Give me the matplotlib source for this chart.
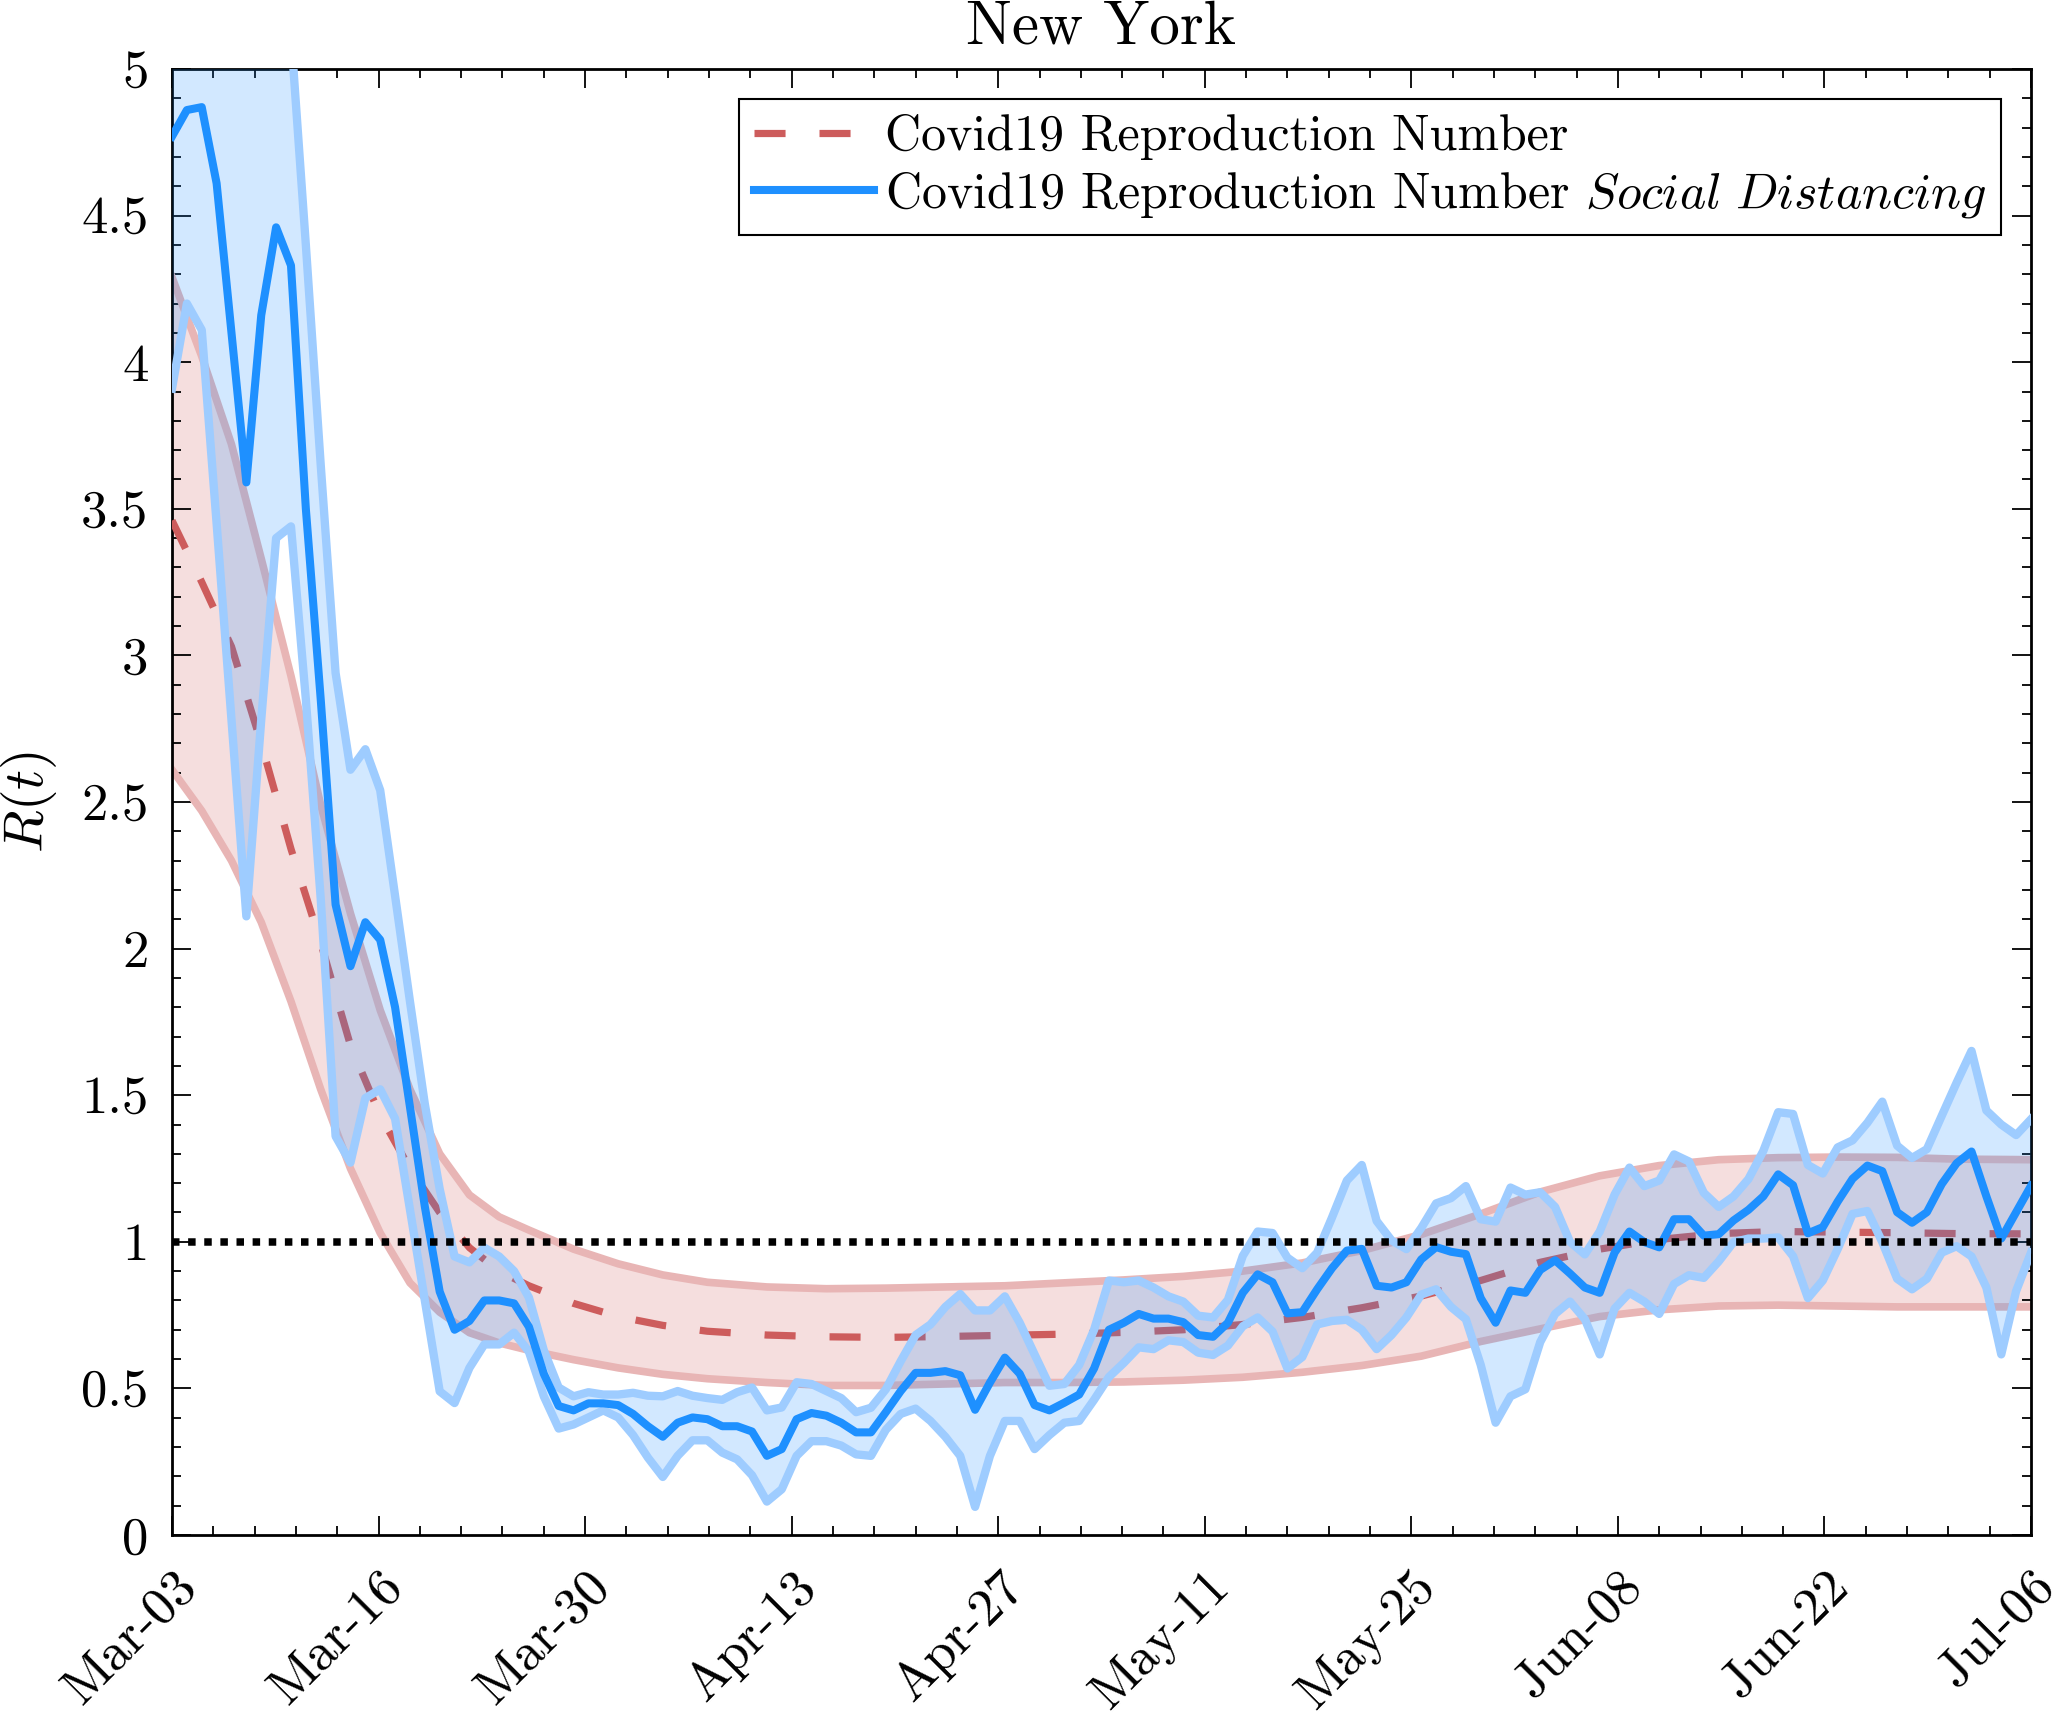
import numpy as np
import matplotlib
matplotlib.use("Agg")
import matplotlib.pyplot as plt
from matplotlib.ticker import FixedLocator, MultipleLocator
from matplotlib.lines import Line2D

plt.rcParams['font.family'] = 'cmr10'
plt.rcParams['mathtext.fontset'] = 'cm'
plt.rcParams['axes.unicode_minus'] = False
plt.rcParams['axes.formatter.use_mathtext'] = True

# date labels (ticks evenly spread over Mar-03 .. Jul-06)
date_labels = ['Mar-03', 'Mar-16', 'Mar-30', 'Apr-13', 'Apr-27',
               'May-11', 'May-25', 'Jun-08', 'Jun-22', 'Jul-06']
ytick_labels = ['0', '0.5', '1', '1.5', '2', '2.5', '3', '3.5', '4', '4.5', '5']

# smooth model estimate (days since Mar-03)
r_days = [0, 2, 4, 6, 8, 10, 12, 14, 16, 18, 20, 22, 24, 27, 30, 33, 36, 40, 44,
          48, 52, 56, 60, 64, 68, 72, 76, 80, 84, 88, 92, 96, 100, 104, 108, 112,
          116, 120, 125]
r_mean = [3.46, 3.25, 3.03, 2.70, 2.34, 2.02, 1.67, 1.43, 1.25, 1.10, 0.98, 0.90,
          0.85, 0.79, 0.745, 0.715, 0.695, 0.682, 0.676, 0.674, 0.677, 0.681, 0.685,
          0.691, 0.70, 0.718, 0.742, 0.775, 0.815, 0.868, 0.93, 0.975, 1.008, 1.028,
          1.035, 1.033, 1.031, 1.028, 1.027]
r_hi = [4.29, 4.02, 3.72, 3.33, 2.93, 2.49, 2.12, 1.79, 1.52, 1.30, 1.16, 1.085,
        1.04, 0.975, 0.925, 0.887, 0.862, 0.846, 0.84, 0.842, 0.846, 0.85, 0.86,
        0.87, 0.882, 0.90, 0.928, 0.97, 1.025, 1.095, 1.17, 1.225, 1.26, 1.28,
        1.287, 1.289, 1.288, 1.282, 1.28]
r_lo = [2.61, 2.47, 2.30, 2.09, 1.82, 1.52, 1.25, 1.03, 0.86, 0.76, 0.69, 0.655,
        0.63, 0.598, 0.57, 0.548, 0.533, 0.52, 0.51, 0.51, 0.515, 0.52, 0.52,
        0.522, 0.528, 0.538, 0.555, 0.578, 0.61, 0.66, 0.703, 0.745, 0.768, 0.781,
        0.784, 0.781, 0.778, 0.778, 0.778]

# daily estimate with social distancing
sd_mean = [4.77, 4.86, 4.87, 4.61, 4.10, 3.59, 4.16, 4.46, 4.33, 3.50,
           2.85, 2.15, 1.94, 2.09, 2.03, 1.80, 1.46, 1.12, 0.83, 0.70,
           0.73, 0.80, 0.80, 0.79, 0.71, 0.55, 0.44, 0.425, 0.449, 0.449,
           0.443, 0.413, 0.371, 0.335, 0.383, 0.401, 0.395, 0.371, 0.371, 0.353,
           0.27, 0.293, 0.395, 0.416, 0.407, 0.383, 0.35, 0.35, 0.419, 0.491,
           0.553, 0.553, 0.559, 0.545, 0.427, 0.52, 0.605, 0.55, 0.443, 0.425,
           0.451, 0.479, 0.568, 0.70, 0.724, 0.754, 0.738, 0.738, 0.726, 0.682,
           0.676, 0.724, 0.826, 0.889, 0.862, 0.756, 0.76, 0.838, 0.91, 0.97,
           0.976, 0.85, 0.844, 0.862, 0.94, 0.982, 0.966, 0.958, 0.808, 0.724,
           0.834, 0.826, 0.904, 0.937, 0.892, 0.844, 0.826, 0.963, 1.035, 0.999,
           0.981, 1.077, 1.077, 1.021, 1.026, 1.073, 1.109, 1.155, 1.23, 1.193,
           1.029, 1.05, 1.137, 1.215, 1.26, 1.241, 1.101, 1.065, 1.101, 1.197,
           1.268, 1.308, 1.155, 1.011, 1.101, 1.191]
sd_hi = [5.60, 5.70, 5.70, 5.50, 5.30, 5.40, 5.60, 5.80, 5.12, 4.40,
         3.65, 2.94, 2.61, 2.68, 2.54, 2.18, 1.82, 1.47, 1.18, 0.95,
         0.93, 0.98, 0.95, 0.90, 0.81, 0.63, 0.503, 0.473, 0.487, 0.479,
         0.479, 0.485, 0.475, 0.473, 0.491, 0.475, 0.467, 0.461, 0.487, 0.503,
         0.425, 0.435, 0.521, 0.515, 0.491, 0.467, 0.419, 0.434, 0.497, 0.593,
         0.682, 0.718, 0.778, 0.822, 0.766, 0.766, 0.814, 0.724, 0.616, 0.509,
         0.515, 0.58, 0.70, 0.868, 0.862, 0.868, 0.844, 0.814, 0.796, 0.748,
         0.742, 0.802, 0.952, 1.035, 1.03, 0.946, 0.91, 0.963, 1.083, 1.209,
         1.262, 1.071, 1.005, 0.975, 1.047, 1.131, 1.149, 1.19, 1.077, 1.069,
         1.185, 1.161, 1.169, 1.119, 1.0, 0.957, 1.035, 1.161, 1.253, 1.19,
         1.209, 1.298, 1.274, 1.167, 1.119, 1.155, 1.214, 1.31, 1.442, 1.436,
         1.262, 1.233, 1.322, 1.346, 1.406, 1.478, 1.328, 1.286, 1.316, 1.43,
         1.543, 1.651, 1.448, 1.40, 1.364, 1.418]
sd_lo = [3.91, 4.20, 4.11, 3.45, 2.78, 2.11, 2.78, 3.40, 3.44, 2.85,
         2.17, 1.36, 1.27, 1.49, 1.52, 1.42, 1.11, 0.80, 0.49, 0.45,
         0.57, 0.65, 0.65, 0.69, 0.625, 0.473, 0.363, 0.377, 0.401, 0.425,
         0.401, 0.341, 0.264, 0.198, 0.27, 0.323, 0.323, 0.281, 0.258, 0.204,
         0.114, 0.156, 0.27, 0.32, 0.32, 0.305, 0.275, 0.27, 0.359, 0.413,
         0.431, 0.389, 0.335, 0.27, 0.096, 0.27, 0.389, 0.389, 0.293, 0.341,
         0.383, 0.389, 0.461, 0.539, 0.587, 0.64, 0.634, 0.664, 0.658, 0.622,
         0.614, 0.646, 0.712, 0.742, 0.694, 0.568, 0.607, 0.718, 0.73, 0.734,
         0.70, 0.634, 0.682, 0.742, 0.82, 0.838, 0.778, 0.736, 0.58, 0.383,
         0.473, 0.497, 0.658, 0.754, 0.796, 0.736, 0.616, 0.772, 0.826, 0.796,
         0.754, 0.856, 0.886, 0.877, 0.933, 0.999, 1.011, 1.011, 1.015, 0.951,
         0.808, 0.868, 0.975, 1.095, 1.105, 0.999, 0.874, 0.838, 0.874, 0.963,
         0.985, 0.95, 0.844, 0.616, 0.832, 0.963]

days = np.arange(len(sd_mean))

RED = '#CD5C5C'
RED_EDGE = '#E8B5B5'
RED_FILL = '#F5DEDE'
BLUE = '#1E90FF'
BLUE_EDGE = '#9ECCFF'

fig = plt.figure(figsize=(20.58, 17.16), dpi=100)
ax = fig.add_axes([172 / 2058, 1 - 1535 / 1716, 1859 / 2058, 1466 / 1716])

# model band
ax.fill_between(r_days, r_lo, r_hi, color=RED_FILL, lw=0, zorder=1)
ax.plot(r_days, r_hi, color=RED_EDGE, lw=5.5, zorder=2, solid_joinstyle='round')
ax.plot(r_days, r_lo, color=RED_EDGE, lw=5.5, zorder=2, solid_joinstyle='round')
ax.plot(r_days, r_mean, color=RED, lw=5.2, zorder=3,
        linestyle=(0, (4.3, 4.7)), dash_capstyle='butt')

# social distancing band
ax.fill_between(days, sd_lo, sd_hi, color=BLUE, alpha=0.2, lw=0, zorder=4)
ax.plot(days, sd_hi, color=BLUE_EDGE, lw=6.0, zorder=5)
ax.plot(days, sd_lo, color=BLUE_EDGE, lw=6.0, zorder=5)
ax.plot(days, sd_mean, color=BLUE, lw=5.8, zorder=6)

ax.axhline(1, color='black', lw=5.4, linestyle=(0, (1, 1.15)),
           dash_capstyle='butt', zorder=7)

ax.set_xlim(0, 125)
ax.set_ylim(0, 5)

xt = np.linspace(0, 125, len(date_labels))
ax.set_xticks(xt)
ax.set_xticklabels(date_labels, rotation=45, ha='right', va='top',
                   rotation_mode='anchor')
ax.xaxis.set_minor_locator(FixedLocator(np.linspace(0, 125, 46)))
ax.set_yticks(np.arange(0, 5.01, 0.5))
ax.set_yticklabels(ytick_labels)
ax.yaxis.set_minor_locator(MultipleLocator(0.1))

ax.tick_params(which='both', direction='in', top=True, right=True,
               labelsize=38, width=1.3)
ax.tick_params(which='major', length=13.7)
ax.tick_params(axis='y', which='major', pad=17)
ax.tick_params(axis='x', which='major', pad=20)
ax.tick_params(which='minor', length=6.5)
for s in ax.spines.values():
    s.set_linewidth(2)

ax.set_ylabel('$R(t)$', fontsize=40, labelpad=16)
ax.set_title('New York', fontsize=44, pad=18.7)

handles = [Line2D([], [], color=RED, lw=5.2, linestyle=(0, (4.3, 4.7)),
                  dash_capstyle='butt'),
           Line2D([], [], color=BLUE, lw=5.8)]
labels = ['Covid19 Reproduction Number',
          r'Covid19 Reproduction Number $\mathit{Social\ Distancing}$']
leg = ax.legend(handles, labels, loc='upper right', fontsize=36,
                fancybox=False, framealpha=1, edgecolor='black',
                borderpad=0.3, labelspacing=0.2, handlelength=2.4,
                handletextpad=0.22, borderaxespad=0.6)
leg.get_frame().set_linewidth(1.5)
leg.set_zorder(10)

fig.savefig('out.png', dpi=100)
